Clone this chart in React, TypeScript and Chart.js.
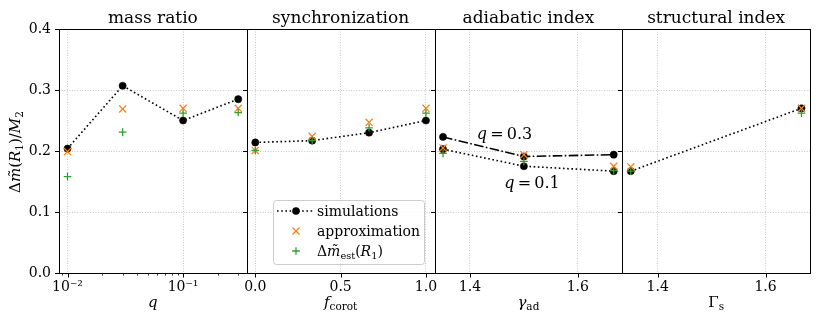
import React, { useEffect, useRef } from 'react';
import { Chart, registerables } from 'chart.js';

Chart.register(...registerables);

const FONT = "'DejaVu Serif', 'Liberation Serif', serif";

// ---------- data ----------
const massRatios = [0.01, 0.03, 0.1, 0.3];
const massSim = [0.204, 0.307, 0.25, 0.285];
const massApprox = [0.199, 0.269, 0.27, 0.27];
const massEst = [0.158, 0.231, 0.262, 0.263];

const corotFractions = [0, 1 / 3, 2 / 3, 1];
const corotSim = [0.214, 0.217, 0.23, 0.25];
const corotApprox = [0.201, 0.224, 0.247, 0.27];
const corotEst = [0.201, 0.217, 0.238, 0.262];

const adiabaticIndices = [1.35, 1.5, 5 / 3];
const adiabaticSimQ03 = [0.223, 0.191, 0.194];
const adiabaticSimQ01 = [0.203, 0.175, 0.167];
const adiabaticApprox = [0.205, 0.194, 0.175];
const adiabaticEst = [0.196, 0.183, 0.168];

const structuralIndices = [1.35, 5 / 3];
const structuralSim = [0.167, 0.27];
const structuralApprox = [0.174, 0.27];
const structuralEst = [0.167, 0.262];

const yTicks = [0, 0.1, 0.2, 0.3, 0.4];
const yTickLabels = ['0.0', '0.1', '0.2', '0.3', '0.4'];
const qTicks = [0.009, 0.01, 0.02, 0.03, 0.04, 0.05, 0.06, 0.07, 0.08, 0.09, 0.1, 0.2, 0.3];
const qMajorTicks = [0.01, 0.1];
const qTickLabels = ['10\u207B\u00B2', '10\u207B\u00B9'];
const fTicks = [0, 0.5, 1];
const fTickLabels = ['0.0', '0.5', '1.0'];
const gammaTicks = [1.4, 1.6];
const gammaTickLabels = ['1.4', '1.6'];

const panelTitles = ['mass ratio', 'synchronization', 'adiabatic index', 'structural index'];
const legendLabels = ['simulations', 'approximation'];
const annotationValues = ['0.3', '0.1'];

// ---------- layout ----------
const W = 822;
const H = 327;
const PLOT_TOP = 29;
const PLOT_BOTTOM = 273;
const PANEL_EDGES = [59, 246.75, 434.5, 622.25, 810];
const Y_AXIS_W = 50;
const X_AXIS_H = 30;
const ANNOT_POS = [
  { x: 1.464, y: 0.22 },
  { x: 1.515, y: 0.14 },
];

const ORANGE = '#ff7f0e';
const GREEN = '#2ca02c';
const GRID = '#c6c6c6';
const DOTTED = [1.6, 2.6];
const DASHDOT = [9.6, 2.4, 1.6, 2.4];

type Part = { t: string; it?: boolean; sub?: boolean };

function fontFor(p: Part, size: number) {
  const s = p.sub ? size * 0.7 : size;
  return `${p.it ? 'italic ' : ''}${s}px ${FONT}`;
}

function drawRich(ctx: CanvasRenderingContext2D, parts: Part[], x: number, y: number, size: number, align: 'left' | 'center') {
  let total = 0;
  const widths = parts.map((p) => {
    ctx.font = fontFor(p, size);
    const w = ctx.measureText(p.t).width;
    total += w;
    return w;
  });
  let cx = align === 'center' ? x - total / 2 : x;
  ctx.textAlign = 'left';
  ctx.textBaseline = 'alphabetic';
  parts.forEach((p, i) => {
    ctx.font = fontFor(p, size);
    ctx.fillText(p.t, cx, y + (p.sub ? size * 0.22 : 0));
    cx += widths[i];
  });
}

const pts = (xs: number[], ys: number[]) => xs.map((x, i) => ({ x, y: ys[i] }));

function simDataset(xs: number[], ys: number[], dash: number[]) {
  return {
    label: 'simulations',
    data: pts(xs, ys),
    showLine: true,
    borderColor: '#000',
    backgroundColor: '#000',
    borderWidth: 1.6,
    borderDash: dash,
    pointStyle: 'circle',
    pointRadius: 3.6,
    pointBorderWidth: 0.5,
    pointBackgroundColor: '#000',
    pointBorderColor: '#000',
    tension: 0,
    order: 3,
  };
}
function approxDataset(xs: number[], ys: number[]) {
  return {
    label: 'approximation',
    data: pts(xs, ys),
    showLine: false,
    pointStyle: 'crossRot',
    pointRadius: 5,
    pointBorderWidth: 1.3,
    borderColor: ORANGE,
    pointBorderColor: ORANGE,
    backgroundColor: ORANGE,
    order: 2,
  };
}
function estDataset(xs: number[], ys: number[]) {
  return {
    label: 'estimate',
    data: pts(xs, ys),
    showLine: false,
    pointStyle: 'cross',
    pointRadius: 3.8,
    pointBorderWidth: 1.3,
    borderColor: GREEN,
    pointBorderColor: GREEN,
    backgroundColor: GREEN,
    order: 1,
  };
}

const PANELS = [
  {
    xType: 'logarithmic',
    xMin: 0.00844,
    xMax: 0.3556,
    xTicks: qTicks,
    xMajor: qMajorTicks,
    xLabels: qTickLabels,
    xTitle: [{ t: 'q', it: true }] as Part[],
    datasets: [simDataset(massRatios, massSim, DOTTED), approxDataset(massRatios, massApprox), estDataset(massRatios, massEst)],
  },
  {
    xType: 'linear',
    xMin: -0.05,
    xMax: 1.05,
    xTicks: fTicks,
    xMajor: fTicks,
    xLabels: fTickLabels,
    xTitle: [{ t: 'f', it: true }, { t: 'corot', sub: true }] as Part[],
    datasets: [simDataset(corotFractions, corotSim, DOTTED), approxDataset(corotFractions, corotApprox), estDataset(corotFractions, corotEst)],
  },
  {
    xType: 'linear',
    xMin: 1.33417,
    xMax: 1.6825,
    xTicks: gammaTicks,
    xMajor: gammaTicks,
    xLabels: gammaTickLabels,
    xTitle: [{ t: '\u03B3', it: true }, { t: 'ad', sub: true }] as Part[],
    datasets: [
      simDataset(adiabaticIndices, adiabaticSimQ03, DASHDOT),
      simDataset(adiabaticIndices, adiabaticSimQ01, DOTTED),
      approxDataset(adiabaticIndices, adiabaticApprox),
      estDataset(adiabaticIndices, adiabaticEst),
    ],
  },
  {
    xType: 'linear',
    xMin: 1.33417,
    xMax: 1.6825,
    xTicks: gammaTicks,
    xMajor: gammaTicks,
    xLabels: gammaTickLabels,
    xTitle: [{ t: '\u0393' }, { t: 's', sub: true }] as Part[],
    datasets: [simDataset(structuralIndices, structuralSim, DOTTED), approxDataset(structuralIndices, structuralApprox), estDataset(structuralIndices, structuralEst)],
  },
];

function crisp(v: number) {
  return Math.round(v) + 0.5;
}

function decorPlugin(index: number) {
  const p = PANELS[index];
  return {
    id: 'decor' + index,
    afterDraw(chart: any) {
      const ctx: CanvasRenderingContext2D = chart.ctx;
      const { left, right, top, bottom } = chart.chartArea;
      const xs = chart.scales.x;
      const ys = chart.scales.y;
      ctx.save();
      // frame
      ctx.strokeStyle = '#000';
      ctx.lineWidth = 1;
      ctx.setLineDash([]);
      ctx.strokeRect(crisp(left), crisp(top), Math.round(right) - Math.round(left), Math.round(bottom) - Math.round(top));
      // x ticks
      p.xTicks.forEach((v) => {
        const px = crisp(xs.getPixelForValue(v));
        const major = p.xMajor.indexOf(v) >= 0;
        ctx.beginPath();
        ctx.lineWidth = major ? 1 : 0.8;
        ctx.moveTo(px, Math.round(bottom));
        ctx.lineTo(px, Math.round(bottom) + (major ? 4.5 : 2.5));
        ctx.stroke();
      });
      // y ticks
      yTicks.forEach((v) => {
        const py = crisp(ys.getPixelForValue(v));
        ctx.beginPath();
        ctx.lineWidth = 1;
        ctx.moveTo(Math.round(left) - 4, py);
        ctx.lineTo(Math.round(left), py);
        ctx.stroke();
      });
      // title
      ctx.fillStyle = '#000';
      ctx.font = `17px ${FONT}`;
      ctx.textAlign = 'center';
      ctx.textBaseline = 'alphabetic';
      ctx.fillText(panelTitles[index], (left + right) / 2, 23);
      // x axis title
      drawRich(ctx, p.xTitle, (left + right) / 2, 307, 15, 'center');

      if (index === 0) {
        ctx.save();
        ctx.translate(20, 152);
        ctx.rotate(-Math.PI / 2);
        drawRich(
          ctx,
          [
            { t: '\u0394' },
            { t: 'm\u0303', it: true },
            { t: '(' },
            { t: 'R', it: true },
            { t: '1', sub: true },
            { t: ')/' },
            { t: 'M', it: true },
            { t: '2', sub: true },
          ],
          0,
          0,
          15,
          'center'
        );
        ctx.restore();
      }

      if (index === 2) {
        annotationValues.forEach((val, k) => {
          const ax = xs.getPixelForValue(ANNOT_POS[k].x);
          const ay = ys.getPixelForValue(ANNOT_POS[k].y);
          drawRich(ctx, [{ t: 'q', it: true }, { t: '\u2009=\u2009' + val }], ax, ay, 16, 'center');
        });
      }

      if (index === 1) {
        // legend
        const bx = 273.5, by = 200.5, bw = 151, bh = 64;
        ctx.beginPath();
        ctx.roundRect(bx, by, bw, bh, 3);
        ctx.fillStyle = 'rgba(255,255,255,0.8)';
        ctx.fill();
        ctx.strokeStyle = '#cccccc';
        ctx.lineWidth = 1;
        ctx.stroke();
        const hx = 296;
        const rows = [211, 231, 251];
        // simulations
        ctx.beginPath();
        ctx.strokeStyle = '#000';
        ctx.lineWidth = 1.6;
        ctx.setLineDash(DOTTED);
        ctx.moveTo(277, rows[0]);
        ctx.lineTo(314, rows[0]);
        ctx.stroke();
        ctx.setLineDash([]);
        ctx.beginPath();
        ctx.fillStyle = '#000';
        ctx.arc(hx, rows[0], 3.8, 0, Math.PI * 2);
        ctx.fill();
        // approximation
        ctx.beginPath();
        ctx.strokeStyle = ORANGE;
        ctx.lineWidth = 1.3;
        const d = 3.5;
        ctx.moveTo(hx - d, rows[1] - d);
        ctx.lineTo(hx + d, rows[1] + d);
        ctx.moveTo(hx - d, rows[1] + d);
        ctx.lineTo(hx + d, rows[1] - d);
        ctx.stroke();
        // estimate
        ctx.beginPath();
        ctx.strokeStyle = GREEN;
        ctx.moveTo(hx - 3.8, rows[2]);
        ctx.lineTo(hx + 3.8, rows[2]);
        ctx.moveTo(hx, rows[2] - 3.8);
        ctx.lineTo(hx, rows[2] + 3.8);
        ctx.stroke();
        ctx.fillStyle = '#000';
        ctx.font = `14px ${FONT}`;
        ctx.textAlign = 'left';
        ctx.fillText(legendLabels[0], 317, rows[0] + 5);
        ctx.fillText(legendLabels[1], 317, rows[1] + 5);
        drawRich(
          ctx,
          [
            { t: '\u0394' },
            { t: 'm\u0303', it: true },
            { t: 'est', sub: true },
            { t: '(' },
            { t: 'R', it: true },
            { t: '1', sub: true },
            { t: ')' },
          ],
          317,
          rows[2] + 5,
          14,
          'left'
        );
      }
      ctx.restore();
    },
  };
}

function makeConfig(index: number): any {
  const p = PANELS[index];
  const first = index === 0;
  return {
    type: 'line',
    data: { datasets: p.datasets },
    options: {
      animation: false,
      responsive: false,
      devicePixelRatio: 1,
      events: [],
      layout: {
        padding: {
          left: first ? PANEL_EDGES[0] - Y_AXIS_W : PANEL_EDGES[index],
          right: W - PANEL_EDGES[index + 1],
          top: PLOT_TOP,
          bottom: H - PLOT_BOTTOM - X_AXIS_H,
        },
      },
      plugins: { legend: { display: false }, tooltip: { enabled: false }, title: { display: false } },
      scales: {
        x: {
          type: p.xType,
          position: 'bottom',
          min: p.xMin,
          max: p.xMax,
          bounds: 'data',
          afterBuildTicks: (scale: any) => {
            scale.ticks = p.xTicks.map((v) => ({ value: v, major: p.xMajor.indexOf(v) >= 0 }));
          },
          afterFit: (scale: any) => {
            scale.height = X_AXIS_H;
          },
          grid: {
            drawTicks: false,
            lineWidth: 1,
            color: (c: any) => {
              const v = c.tick ? c.tick.value : null;
              return v !== null && p.xMajor.indexOf(v) >= 0 ? GRID : 'rgba(0,0,0,0)';
            },
          },
          border: { display: false, dash: [1, 1.6] },
          ticks: {
            autoSkip: false,
            maxRotation: 0,
            minRotation: 0,
            padding: 6,
            color: '#000',
            font: { family: FONT, size: 14 },
            callback: (v: number) => {
              const k = p.xMajor.indexOf(v);
              return k >= 0 ? p.xLabels[k] : '';
            },
          },
        },
        y: {
          type: 'linear',
          position: 'left',
          min: 0,
          max: 0.4,
          bounds: 'data',
          afterBuildTicks: (scale: any) => {
            scale.ticks = yTicks.map((v) => ({ value: v }));
          },
          afterFit: (scale: any) => {
            scale.width = first ? Y_AXIS_W : 0;
          },
          grid: {
            drawTicks: false,
            lineWidth: 1,
            color: (c: any) => {
              const v = c.tick ? c.tick.value : null;
              return v === null || v === 0 || v === 0.4 ? 'rgba(0,0,0,0)' : GRID;
            },
          },
          border: { display: false, dash: [1, 1.6] },
          ticks: {
            display: first,
            padding: 8,
            color: '#000',
            font: { family: FONT, size: 14 },
            callback: (v: number) => {
              const k = yTicks.indexOf(v);
              return k >= 0 ? yTickLabels[k] : '';
            },
          },
        },
      },
    },
    plugins: [decorPlugin(index)],
  };
}

export default function App() {
  const r0 = useRef<HTMLCanvasElement>(null);
  const r1 = useRef<HTMLCanvasElement>(null);
  const r2 = useRef<HTMLCanvasElement>(null);
  const r3 = useRef<HTMLCanvasElement>(null);
  const refs = [r0, r1, r2, r3];
  useEffect(() => {
    const charts = refs.map((r, i) => new Chart(r.current as HTMLCanvasElement, makeConfig(i)));
    return () => charts.forEach((c) => c.destroy());
  }, []);
  return (
    <div style={{ position: 'absolute', left: 0, top: 0, width: W, height: H, background: '#fff' }}>
      {refs.map((r, i) => (
        <canvas
          key={i}
          ref={r}
          width={W}
          height={H}
          style={{ position: 'absolute', left: 0, top: 0, width: W, height: H }}
        />
      ))}
    </div>
  );
}
